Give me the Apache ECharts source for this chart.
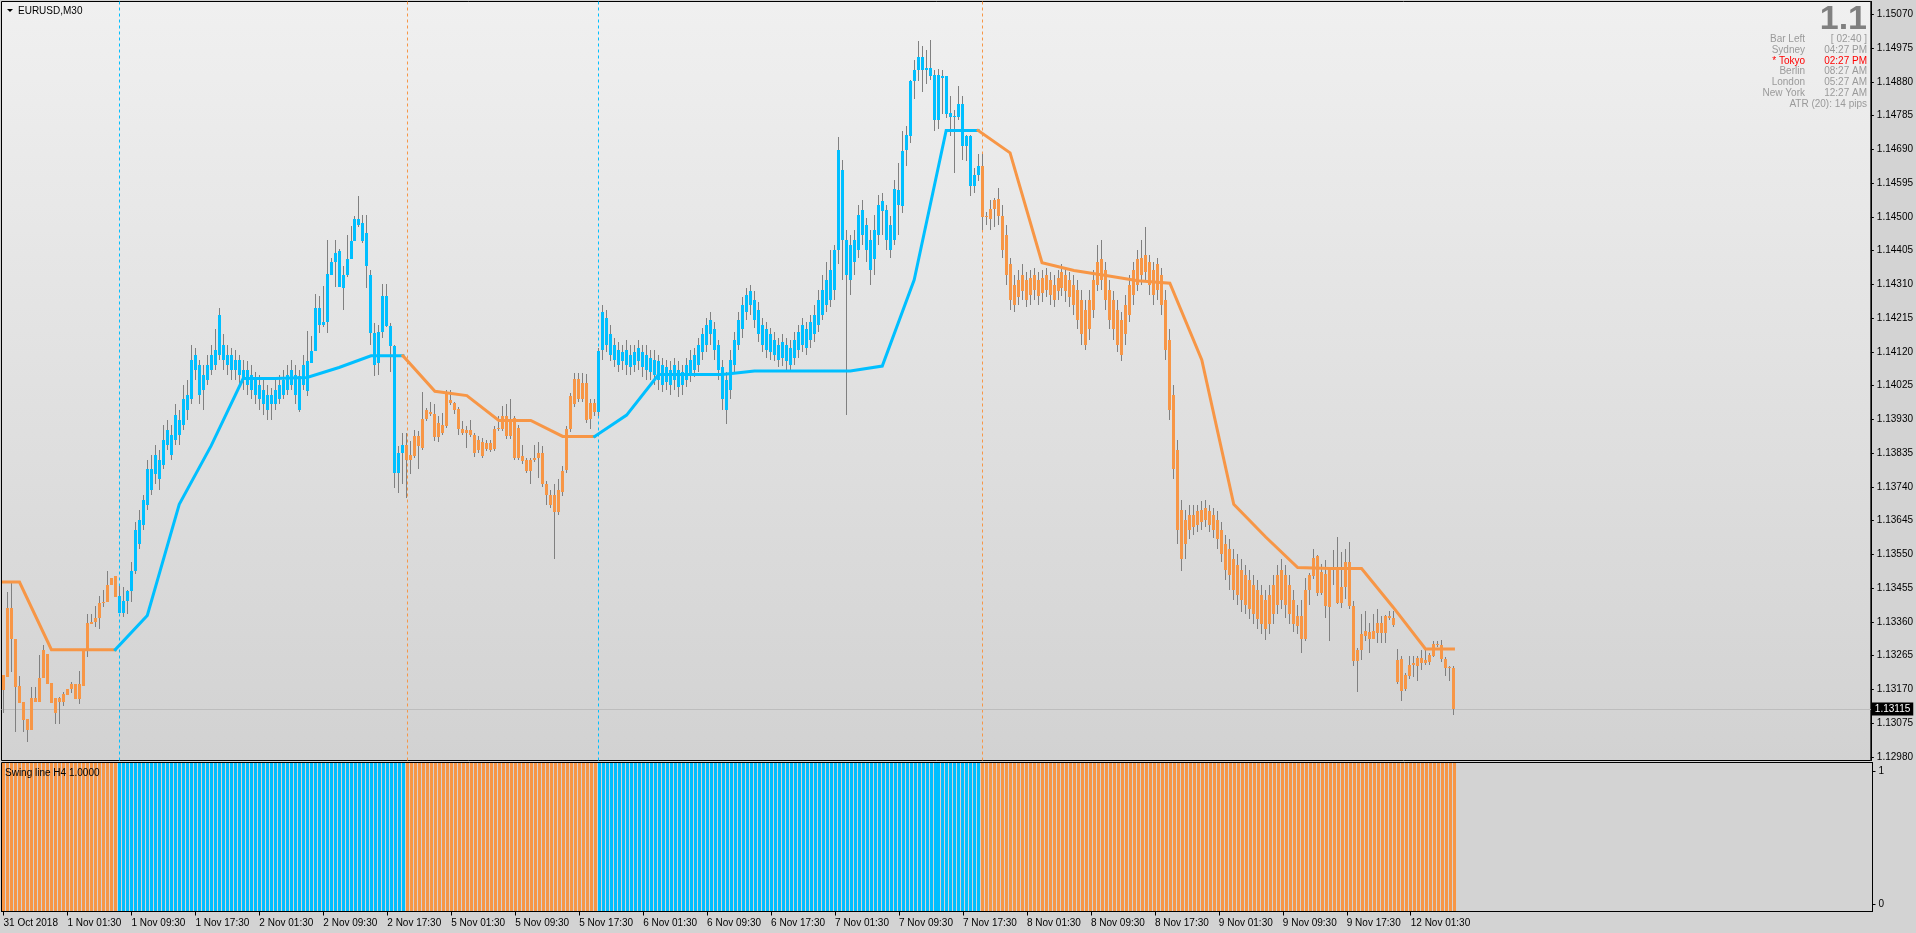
<!DOCTYPE html>
<html>
<head>
<meta charset="utf-8">
<title>EURUSD,M30</title>
<script src="https://cdn.jsdelivr.net/npm/echarts@6.0.0/dist/echarts.min.js"></script>
<style>
html,body{margin:0;padding:0;background:#d3d3d3;overflow:hidden;}
#chart{width:1916px;height:933px;}
</style>
</head>
<body>
<div id="chart"></div>
<script>
// ---------------- DATA ----------------
const opens = [
1.13212,1.13206,1.13398,1.13313,1.13181,1.13136,1.13088,1.13057,1.13147,1.13136,
1.13201,1.13271,1.13187,1.13147,1.13136,1.13136,1.13153,1.13170,1.13184,1.13144,
1.13181,1.13282,1.13353,1.13361,1.13372,1.13412,1.13415,1.13465,1.13488,1.13434,
1.13386,1.13420,1.13446,1.13502,1.13578,1.13634,1.13690,1.13789,1.13775,1.13817,
1.13803,1.13859,1.13887,1.13873,1.13929,1.13915,1.13957,1.13986,1.14112,1.14084,
1.14014,1.14042,1.14070,1.14084,1.14112,1.14140,1.14084,1.14112,1.14070,1.14098,
1.14070,1.14028,1.14056,1.14042,1.14028,1.13972,1.14000,1.13972,1.13972,1.13986,
1.14000,1.14014,1.14028,1.14056,1.13957,1.14028,1.14009,1.14089,1.14122,1.14244,
1.14197,1.14203,1.14337,1.14372,1.14403,1.14300,1.14335,1.14382,1.14431,1.14494,
1.14483,1.14455,1.14335,1.14173,1.14089,1.14175,1.14278,1.14194,1.14136,1.13780,
1.13836,1.13859,1.13817,1.13826,1.13884,1.13850,1.13931,1.13950,1.13944,1.13880,
1.13913,1.13911,1.13984,1.13976,1.13960,1.13903,1.13892,1.13901,1.13887,1.13843,
1.13866,1.13847,1.13864,1.13847,1.13903,1.13903,1.13939,1.13882,1.13934,1.13822,
1.13826,1.13817,1.13784,1.13815,1.13822,1.13836,1.13747,1.13718,1.13718,1.13670,
1.13725,1.13787,1.13903,1.13972,1.14044,1.13986,1.14031,1.13931,1.13976,1.13950,
1.14126,1.14216,1.14169,1.14098,1.14126,1.14093,1.14126,1.14076,1.14121,1.14093,
1.14121,1.14070,1.14104,1.14056,1.14093,1.14028,1.14076,1.14028,1.14042,1.14070,
1.14028,1.14042,1.14056,1.14070,1.14084,1.14121,1.14140,1.14169,1.14183,1.14140,
1.14076,1.13957,1.14014,1.14084,1.14140,1.14183,1.14233,1.14253,1.14267,1.14239,
1.14197,1.14126,1.14169,1.14112,1.14140,1.14104,1.14140,1.14084,1.14104,1.14126,
1.14140,1.14183,1.14154,1.14169,1.14197,1.14225,1.14253,1.14267,1.14295,1.14408,
1.14633,1.14436,1.14323,1.14374,1.14408,1.14450,1.14478,1.14436,1.14380,1.14450,
1.14516,1.14520,1.14408,1.14436,1.14576,1.14530,1.14687,1.14728,1.14881,1.14912,
1.14950,1.14912,1.14919,1.14899,1.14773,1.14895,1.14895,1.14792,1.14781,1.14781,
1.14818,1.14700,1.14727,1.14586,1.14619,1.14644,1.14500,1.14494,1.14522,1.14550,
1.14501,1.14450,1.14366,1.14253,1.14323,1.14290,1.14323,1.14281,1.14337,1.14278,
1.14329,1.14295,1.14323,1.14309,1.14290,1.14301,1.14337,1.14323,1.14309,1.14295,
1.14267,1.14239,1.14183,1.14239,1.14309,1.14380,1.14351,1.14295,1.14267,1.14239,
1.14211,1.14169,1.14225,1.14281,1.14309,1.14337,1.14346,1.14374,1.14351,1.14295,
1.14337,1.14267,1.14154,1.14000,1.13845,1.13676,1.13578,1.13620,1.13662,1.13634,
1.13642,1.13682,1.13671,1.13662,1.13648,1.13620,1.13578,1.13493,1.13536,1.13437,
1.13507,1.13409,1.13479,1.13465,1.13451,1.13437,1.13423,1.13353,1.13381,1.13409,
1.13507,1.13493,1.13465,1.13423,1.13348,1.13378,1.13313,1.13449,1.13489,1.13545,
1.13440,1.13496,1.13403,1.13507,1.13509,1.13414,1.13459,1.13528,1.13406,1.13250,
1.13280,1.13320,1.13331,1.13313,1.13330,1.13358,1.13330,1.13376,1.13372,1.13254,
1.13256,1.13170,1.13209,1.13240,1.13237,1.13259,1.13243,1.13247,1.13264,1.13299,
1.13294,1.13256,1.13231,1.13231
];
const closes = [
1.13168,1.13398,1.13313,1.13178,1.13133,1.13083,1.13057,1.13147,1.13136,1.13201,
1.13280,1.13184,1.13133,1.13105,1.13147,1.13156,1.13170,1.13184,1.13144,1.13184,
1.13282,1.13356,1.13361,1.13372,1.13412,1.13417,1.13465,1.13485,1.13431,1.13386,
1.13420,1.13446,1.13502,1.13620,1.13648,1.13704,1.13789,1.13732,1.13831,1.13761,
1.13873,1.13901,1.13831,1.13943,1.13887,1.13986,1.14000,1.14098,1.14070,1.14000,
1.14056,1.14084,1.14112,1.14126,1.14225,1.14098,1.14112,1.14070,1.14098,1.14056,
1.14042,1.14070,1.14014,1.14000,1.13986,1.14014,1.13957,1.14000,1.14014,1.14028,
1.14042,1.14056,1.14070,1.14000,1.14053,1.14084,1.14093,1.14122,1.14244,1.14197,
1.14203,1.14340,1.14372,1.14399,1.14303,1.14337,1.14382,1.14431,1.14494,1.14478,
1.14431,1.14361,1.14173,1.14084,1.14175,1.14276,1.14194,1.14136,1.13780,1.13836,
1.13859,1.13817,1.13831,1.13884,1.13854,1.13931,1.13956,1.13944,1.13880,1.13920,
1.13892,1.14006,1.13976,1.13957,1.13903,1.13892,1.13901,1.13887,1.13836,1.13871,
1.13828,1.13864,1.13845,1.13903,1.13906,1.13939,1.13882,1.13931,1.13822,1.13906,
1.13812,1.13784,1.13817,1.13822,1.13836,1.13747,1.13718,1.13690,1.13670,1.13732,
1.13784,1.13903,1.13997,1.14044,1.13986,1.14033,1.13927,1.13976,1.13950,1.14122,
1.14233,1.14140,1.14112,1.14140,1.14084,1.14121,1.14084,1.14112,1.14084,1.14132,
1.14076,1.14112,1.14064,1.14098,1.14042,1.14084,1.14036,1.14070,1.14084,1.14020,
1.14064,1.14084,1.14098,1.14112,1.14140,1.14169,1.14197,1.14211,1.14126,1.14070,
1.13986,1.14042,1.14098,1.14154,1.14211,1.14253,1.14281,1.14290,1.14211,1.14169,
1.14140,1.14183,1.14121,1.14154,1.14098,1.14149,1.14093,1.14132,1.14154,1.14177,
1.14197,1.14132,1.14205,1.14225,1.14267,1.14295,1.14323,1.14351,1.14408,1.14689,
1.14436,1.14337,1.14422,1.14436,1.14506,1.14520,1.14408,1.14351,1.14464,1.14534,
1.14544,1.14436,1.14478,1.14579,1.14532,1.14684,1.14731,1.14881,1.14914,1.14950,
1.14912,1.14919,1.14897,1.14773,1.14899,1.14892,1.14790,1.14781,1.14785,1.14818,
1.14700,1.14727,1.14586,1.14619,1.14642,1.14500,1.14501,1.14522,1.14548,1.14501,
1.14408,1.14337,1.14267,1.14309,1.14273,1.14337,1.14267,1.14329,1.14295,1.14323,
1.14287,1.14337,1.14281,1.14267,1.14329,1.14346,1.14290,1.14273,1.14253,1.14211,
1.14169,1.14140,1.14267,1.14323,1.14374,1.14323,1.14267,1.14211,1.14183,1.14140,
1.14112,1.14253,1.14309,1.14351,1.14380,1.14385,1.14394,1.14309,1.14281,1.14366,
1.14253,1.14126,1.13957,1.13789,1.13620,1.13536,1.13648,1.13662,1.13626,1.13671,
1.13676,1.13648,1.13634,1.13620,1.13592,1.13550,1.13507,1.13564,1.13451,1.13521,
1.13423,1.13493,1.13395,1.13381,1.13367,1.13353,1.13339,1.13437,1.13465,1.13493,
1.13423,1.13409,1.13381,1.13353,1.13376,1.13313,1.13451,1.13493,1.13540,1.13440,
1.13500,1.13404,1.13507,1.13509,1.13414,1.13459,1.13528,1.13406,1.13250,1.13282,
1.13325,1.13334,1.13313,1.13334,1.13358,1.13330,1.13378,1.13372,1.13351,1.13190,
1.13165,1.13212,1.13240,1.13243,1.13259,1.13243,1.13252,1.13266,1.13299,1.13294,
1.13256,1.13231,1.13233,1.13115
];
const lows = [
1.13105,1.13206,1.13220,1.13049,1.13133,1.13049,1.13021,1.13057,1.13136,1.13136,
1.13201,1.13184,1.13133,1.13074,1.13074,1.13122,1.13153,1.13161,1.13144,1.13128,
1.13181,1.13260,1.13353,1.13347,1.13339,1.13401,1.13415,1.13465,1.13431,1.13386,
1.13375,1.13381,1.13415,1.13495,1.13564,1.13620,1.13676,1.13718,1.13747,1.13732,
1.13789,1.13845,1.13817,1.13859,1.13859,1.13901,1.13929,1.13972,1.14042,1.13972,
1.13957,1.14028,1.14056,1.14070,1.14098,1.14070,1.14056,1.14042,1.14042,1.14028,
1.14014,1.14000,1.13986,1.13972,1.13957,1.13943,1.13929,1.13929,1.13957,1.13972,
1.13986,1.14000,1.14014,1.13972,1.13952,1.14014,1.13995,1.14089,1.14122,1.14173,
1.14190,1.14173,1.14337,1.14303,1.14303,1.14237,1.14330,1.14382,1.14431,1.14470,
1.14425,1.14300,1.14140,1.14051,1.14056,1.14160,1.14190,1.14062,1.13737,1.13723,
1.13747,1.13710,1.13775,1.13820,1.13789,1.13845,1.13925,1.13940,1.13868,1.13865,
1.13885,1.13905,1.13970,1.13944,1.13887,1.13885,1.13850,1.13880,1.13825,1.13835,
1.13820,1.13840,1.13838,1.13840,1.13898,1.13898,1.13875,1.13875,1.13817,1.13815,
1.13805,1.13780,1.13747,1.13810,1.13766,1.13740,1.13690,1.13680,1.13536,1.13660,
1.13715,1.13780,1.13895,1.13965,1.13980,1.13980,1.13920,1.13903,1.13940,1.13940,
1.14098,1.14121,1.14093,1.14076,1.14064,1.14070,1.14056,1.14056,1.14064,1.14070,
1.14048,1.14042,1.14042,1.14028,1.14014,1.14008,1.14014,1.14000,1.14014,1.13992,
1.14000,1.14020,1.14036,1.14048,1.14064,1.14098,1.14121,1.14140,1.14098,1.14042,
1.13957,1.13918,1.13986,1.14064,1.14126,1.14160,1.14211,1.14225,1.14188,1.14149,
1.14121,1.14104,1.14098,1.14093,1.14076,1.14081,1.14070,1.14064,1.14084,1.14104,
1.14121,1.14112,1.14132,1.14149,1.14177,1.14211,1.14233,1.14245,1.14267,1.14366,
1.14323,1.13943,1.14281,1.14337,1.14385,1.14422,1.14374,1.14309,1.14337,1.14422,
1.14450,1.14408,1.14385,1.14422,1.14450,1.14511,1.14644,1.14708,1.14832,1.14881,
1.14850,1.14875,1.14886,1.14741,1.14747,1.14788,1.14779,1.14728,1.14622,1.14773,
1.14661,1.14656,1.14560,1.14567,1.14600,1.14464,1.14478,1.14464,1.14470,1.14478,
1.14385,1.14309,1.14239,1.14233,1.14253,1.14267,1.14245,1.14253,1.14267,1.14253,
1.14261,1.14273,1.14253,1.14245,1.14267,1.14278,1.14261,1.14245,1.14225,1.14183,
1.14140,1.14126,1.14154,1.14216,1.14290,1.14295,1.14239,1.14183,1.14154,1.14121,
1.14093,1.14140,1.14205,1.14253,1.14290,1.14309,1.14323,1.14281,1.14253,1.14267,
1.14225,1.14098,1.13929,1.13761,1.13578,1.13502,1.13536,1.13592,1.13606,1.13614,
1.13620,1.13626,1.13614,1.13597,1.13564,1.13530,1.13479,1.13451,1.13423,1.13409,
1.13389,1.13381,1.13367,1.13353,1.13339,1.13325,1.13310,1.13325,1.13353,1.13381,
1.13395,1.13372,1.13353,1.13333,1.13325,1.13273,1.13305,1.13409,1.13480,1.13434,
1.13435,1.13372,1.13306,1.13465,1.13410,1.13400,1.13425,1.13397,1.13236,1.13162,
1.13254,1.13306,1.13273,1.13311,1.13301,1.13301,1.13301,1.13365,1.13346,1.13184,
1.13137,1.13165,1.13198,1.13206,1.13193,1.13226,1.13240,1.13240,1.13260,1.13290,
1.13247,1.13209,1.13193,1.13097
];
const highs = [
1.13212,1.13443,1.13471,1.13313,1.13209,1.13136,1.13088,1.13178,1.13178,1.13268,
1.13296,1.13271,1.13187,1.13147,1.13150,1.13164,1.13170,1.13192,1.13184,1.13223,
1.13282,1.13381,1.13381,1.13406,1.13434,1.13451,1.13502,1.13485,1.13488,1.13460,
1.13457,1.13451,1.13530,1.13640,1.13676,1.13718,1.13817,1.13831,1.13859,1.13845,
1.13915,1.13929,1.13915,1.13972,1.13957,1.14028,1.14042,1.14140,1.14132,1.14098,
1.14084,1.14112,1.14140,1.14183,1.14244,1.14169,1.14140,1.14132,1.14126,1.14112,
1.14098,1.14093,1.14084,1.14064,1.14056,1.14042,1.14028,1.14019,1.14042,1.14056,
1.14070,1.14084,1.14098,1.14084,1.14070,1.14112,1.14178,1.14164,1.14284,1.14278,
1.14304,1.14434,1.14385,1.14434,1.14410,1.14361,1.14450,1.14473,1.14501,1.14560,
1.14506,1.14506,1.14351,1.14200,1.14197,1.14312,1.14311,1.14200,1.14140,1.13854,
1.13893,1.13892,1.13868,1.13901,1.13896,1.14006,1.13962,1.13979,1.13972,1.13939,
1.13948,1.14014,1.14014,1.13980,1.13965,1.13925,1.13911,1.13929,1.13892,1.13882,
1.13878,1.13873,1.13873,1.13911,1.13939,1.13967,1.13972,1.13988,1.13940,1.13915,
1.13859,1.13820,1.13822,1.13859,1.13866,1.13854,1.13756,1.13732,1.13747,1.13761,
1.13798,1.13910,1.14005,1.14061,1.14061,1.14061,1.14059,1.13986,1.13986,1.14130,
1.14253,1.14239,1.14197,1.14160,1.14149,1.14140,1.14154,1.14140,1.14140,1.14154,
1.14140,1.14140,1.14126,1.14126,1.14112,1.14104,1.14098,1.14093,1.14104,1.14093,
1.14084,1.14104,1.14126,1.14132,1.14160,1.14188,1.14216,1.14233,1.14205,1.14154,
1.14098,1.14064,1.14126,1.14177,1.14233,1.14273,1.14301,1.14309,1.14290,1.14261,
1.14216,1.14205,1.14188,1.14177,1.14160,1.14169,1.14160,1.14154,1.14177,1.14197,
1.14216,1.14205,1.14225,1.14253,1.14295,1.14337,1.14374,1.14408,1.14422,1.14726,
1.14661,1.14464,1.14450,1.14464,1.14534,1.14548,1.14498,1.14464,1.14506,1.14562,
1.14568,1.14534,1.14503,1.14605,1.14652,1.14741,1.14757,1.14886,1.14940,1.14996,
1.14980,1.14970,1.14998,1.14914,1.14916,1.14914,1.14897,1.14839,1.14800,1.14867,
1.14839,1.14731,1.14731,1.14638,1.14678,1.14678,1.14515,1.14546,1.14553,1.14581,
1.14534,1.14478,1.14385,1.14337,1.14351,1.14366,1.14346,1.14351,1.14357,1.14346,
1.14351,1.14357,1.14346,1.14337,1.14351,1.14366,1.14357,1.14346,1.14337,1.14323,
1.14295,1.14267,1.14295,1.14351,1.14422,1.14436,1.14374,1.14323,1.14290,1.14267,
1.14233,1.14281,1.14337,1.14374,1.14408,1.14436,1.14470,1.14394,1.14374,1.14385,
1.14357,1.14295,1.14183,1.14028,1.13873,1.13704,1.13676,1.13690,1.13690,1.13690,
1.13699,1.13704,1.13690,1.13682,1.13671,1.13642,1.13606,1.13592,1.13564,1.13550,
1.13536,1.13521,1.13507,1.13493,1.13479,1.13465,1.13451,1.13465,1.13493,1.13521,
1.13536,1.13521,1.13493,1.13451,1.13409,1.13423,1.13484,1.13498,1.13566,1.13547,
1.13524,1.13533,1.13515,1.13562,1.13600,1.13556,1.13566,1.13584,1.13418,1.13287,
1.13381,1.13392,1.13356,1.13381,1.13395,1.13376,1.13380,1.13390,1.13390,1.13284,
1.13264,1.13215,1.13264,1.13264,1.13264,1.13282,1.13280,1.13273,1.13305,1.13306,
1.13309,1.13260,1.13236,1.13236
];
// trend state of the swing indicator: first bar of each run and its direction
const trendStarts = [0, 29, 101, 149, 245];
const trendDirs   = ['down', 'up', 'down', 'up', 'down'];
// H4 swing line knots (bar index, level)
const swingBars = [0,4,12,20,28,36,44,52,60,68,76,84,92,100,108,116,124,132,140,148,156,164,172,180,188,196,204,212,220,228,236,244,252,260,268,276,284,292,300,308,316,324,332,340,348,356,363];
const swingLevels = [1.13472,1.13472,1.13282,1.13282,1.13282,1.13378,1.13691,1.13856,1.14045,1.14045,1.14048,1.14076,1.14109,1.14109,1.14009,1.13997,1.13927,1.13927,1.13882,1.13882,1.13942,1.14056,1.14056,1.14056,1.14066,1.14066,1.14066,1.14066,1.14080,1.14323,1.14743,1.14743,1.14680,1.14371,1.14349,1.14335,1.14320,1.14313,1.14097,1.13691,1.13599,1.13513,1.13510,1.13510,1.13400,1.13284,1.13284];
const histogramValue = 1;
const priceTicks = [1.12980,1.13075,1.13170,1.13265,1.13360,1.13455,1.13550,1.13645,1.13740,1.13835,1.13930,1.14025,1.14120,1.14215,1.14310,1.14405,1.14500,1.14595,1.14690,1.14785,1.14880,1.14975,1.15070];
const timeLabels = ['31 Oct 2018','1 Nov 01:30','1 Nov 09:30','1 Nov 17:30','2 Nov 01:30','2 Nov 09:30','2 Nov 17:30','5 Nov 01:30','5 Nov 09:30','5 Nov 17:30','6 Nov 01:30','6 Nov 09:30','6 Nov 17:30','7 Nov 01:30','7 Nov 09:30','7 Nov 17:30','8 Nov 01:30','8 Nov 09:30','8 Nov 17:30','9 Nov 01:30','9 Nov 09:30','9 Nov 17:30','12 Nov 01:30'];
const barsPerLabel = 16;
const bidPrice = 1.13115;
const infoRows = [['Bar Left','[ 02:40 ]'],['Sydney','04:27 PM'],['* Tokyo','02:27 PM'],['Berlin','08:27 AM'],['London','05:27 AM'],['New York','12:27 AM']];
const highlightRow = '* Tokyo';
const atrText = 'ATR (20): 14 pips';
const bigText = '1.1';

// ---------------- STYLE ----------------
const ORANGE = '#f79646', BLUE = '#00bfff', WICK = '#808080';
const FONT = '"Liberation Sans", Arial, sans-serif';
const totalSlots = 468; // visible bar slots incl. right shift
const slots = Array.from({length: totalSlots}, (_, i) => String(i));

function trendAt(i) {
  let d = trendDirs[0];
  for (let k = 0; k < trendStarts.length; k++) if (i >= trendStarts[k]) d = trendDirs[k];
  return d;
}
const colorOf = d => d === 'up' ? BLUE : ORANGE;

function renderCandle(params, api) {
  const i = api.value(0);
  const pO = api.coord([i, api.value(1)]);
  const pC = api.coord([i, api.value(2)]);
  const pL = api.coord([i, api.value(3)]);
  const pH = api.coord([i, api.value(4)]);
  const bw = Math.max(1, Math.round(api.size([1, 0])[0] * 0.75));
  const cx = Math.floor(pO[0]);
  const top = Math.round(Math.min(pO[1], pC[1]));
  const bot = Math.round(Math.max(pO[1], pC[1]));
  const yH = Math.round(pH[1]), yL = Math.round(pL[1]);
  return {
    type: 'group',
    children: [
      {type: 'rect', shape: {x: cx, y: yH, width: 1, height: Math.max(1, yL - yH)}, style: {fill: WICK}},
      {type: 'rect', shape: {x: cx - Math.floor(bw / 2), y: top, width: bw, height: Math.max(1, bot - top)}, style: {fill: colorOf(trendAt(i))}}
    ]
  };
}
function renderHist(params, api) {
  const i = api.value(0);
  const p1 = api.coord([i, api.value(1)]);
  const p0 = api.coord([i, 0]);
  const bw = Math.max(1, Math.round(api.size([1, 0])[0] * 0.75));
  const cx = Math.floor(p1[0]);
  const y1 = Math.ceil(p1[1]), y0 = Math.floor(p0[1]);
  return {type: 'rect', shape: {x: cx - Math.floor(bw / 2), y: y1, width: bw, height: y0 - y1}, style: {fill: colorOf(trendAt(i))}};
}

// swing line split into colored runs
const swingSeries = [];
let run = null;
for (let k = 0; k < swingBars.length - 1; k++) {
  const col = colorOf(trendAt(swingBars[k + 1]));
  if (!run || run.color !== col) {
    run = {color: col, data: [[swingBars[k], swingLevels[k]]]};
    swingSeries.push(run);
  }
  run.data.push([swingBars[k + 1], swingLevels[k + 1]]);
}

const labelShown = (idx) => idx % barsPerLabel === 0 && idx / barsPerLabel < timeLabels.length;

const markData = trendStarts.slice(1).map(i => ({
  xAxis: i, label: {show: false},
  lineStyle: {color: colorOf(trendAt(i)), type: [3, 3], width: 1}
}));
markData.push({
  yAxis: bidPrice,
  lineStyle: {color: '#bdbdbd', type: 'solid', width: 1},
  label: {show: true, position: 'end', distance: 1, formatter: bidPrice.toFixed(5),
          color: '#ffffff', backgroundColor: '#000000', padding: [2, 3, 1, 3],
          fontSize: 10, fontFamily: FONT}
});

const graphics = [
  {type: 'polygon', shape: {points: [[7, 9], [13, 9], [10, 12]]}, style: {fill: '#000'}, z: 100},
  {type: 'text', x: 18, y: 11, z: 100, style: {text: 'EURUSD,M30', fill: '#000', font: '10px ' + FONT, verticalAlign: 'middle'}},
  {type: 'text', x: 5, y: 773, z: 100, style: {text: 'Swing line H4 ' + histogramValue.toFixed(4), fill: '#000', font: '10px ' + FONT, verticalAlign: 'middle'}},
  {type: 'text', x: 1867, y: 20, z: 100, style: {text: bigText, fill: '#808080', font: 'bold 34px ' + FONT, align: 'right', verticalAlign: 'middle'}}
];
infoRows.forEach((r, k) => {
  const col = r[0] === highlightRow ? '#ff0000' : '#9a9a9a';
  const y = 39 + k * 10.9;
  graphics.push({type: 'text', x: 1805, y: y, z: 100, style: {text: r[0], fill: col, font: '10px ' + FONT, align: 'right', verticalAlign: 'middle'}});
  graphics.push({type: 'text', x: 1867, y: y, z: 100, style: {text: r[1], fill: col, font: '10px ' + FONT, align: 'right', verticalAlign: 'middle'}});
});
graphics.push({type: 'text', x: 1867, y: 39 + 6 * 10.9, z: 100, style: {text: atrText, fill: '#9a9a9a', font: '10px ' + FONT, align: 'right', verticalAlign: 'middle'}});

const option = {
  animation: false,
  backgroundColor: '#d3d3d3',
  textStyle: {fontFamily: FONT},
  grid: [
    {left: 1.5, top: 1.5, width: 1871, height: 759, show: true,
     backgroundColor: {type: 'linear', x: 0, y: 0, x2: 0, y2: 1, colorStops: [{offset: 0, color: '#f0f0f0'}, {offset: 1, color: '#d2d2d2'}]},
     borderColor: '#000', borderWidth: 1},
    {left: 1.5, top: 762.5, width: 1871, height: 149, show: true, backgroundColor: '#d3d3d3', borderColor: '#000', borderWidth: 1}
  ],
  xAxis: [
    {gridIndex: 0, type: 'category', data: slots, boundaryGap: true, show: false},
    {gridIndex: 1, type: 'category', data: slots, boundaryGap: true,
     axisLine: {show: true, lineStyle: {color: '#000', width: 1}},
     axisTick: {show: true, alignWithLabel: true, interval: labelShown, length: 4, lineStyle: {color: '#000'}},
     axisLabel: {interval: labelShown, align: 'left', margin: 7, color: '#000', fontSize: 10, fontFamily: FONT,
                 formatter: (v) => timeLabels[Number(v) / barsPerLabel] || ''},
     splitLine: {show: false}}
  ],
  yAxis: [
    {gridIndex: 0, type: 'value', position: 'right', min: 1.12970, max: 1.15106,
     axisLine: {show: true, lineStyle: {color: '#000'}},
     axisTick: {show: true, customValues: priceTicks, length: 3, lineStyle: {color: '#000'}},
     axisLabel: {customValues: priceTicks, formatter: v => v.toFixed(5), color: '#000', fontSize: 10, fontFamily: FONT, margin: 6},
     splitLine: {show: false}},
    {gridIndex: 1, type: 'value', min: 0, max: 1, show: false},
    {gridIndex: 1, type: 'value', position: 'right', min: -0.052, max: 1.065,
     axisLine: {show: true, lineStyle: {color: '#000'}},
     axisTick: {show: true, customValues: [0, 1], length: 3, lineStyle: {color: '#000'}},
     axisLabel: {customValues: [0, 1], formatter: v => String(v), color: '#000', fontSize: 10, fontFamily: FONT, margin: 6},
     splitLine: {show: false}}
  ],
  series: [
    {type: 'custom', name: 'EURUSD', xAxisIndex: 0, yAxisIndex: 0, z: 2, clip: true,
     data: opens.map((o, i) => [i, o, closes[i], lows[i], highs[i]]),
     encode: {x: 0, y: [1, 2, 3, 4]},
     renderItem: renderCandle,
     markLine: {symbol: ['none', 'none'], silent: true, animation: false, precision: 5, z: 1, data: markData}},
    ...swingSeries.map(s => ({
      type: 'line', xAxisIndex: 0, yAxisIndex: 0, z: 3, data: s.data,
      symbol: 'none', showSymbol: false, silent: true,
      lineStyle: {color: s.color, width: 3, cap: 'square', join: 'miter'}
    })),
    {type: 'custom', name: 'Swing line H4', xAxisIndex: 1, yAxisIndex: 1, z: 2,
     data: opens.map((o, i) => [i, histogramValue]),
     encode: {x: 0, y: 1},
     renderItem: renderHist}
  ],
  graphic: graphics
};

const chart = echarts.init(document.getElementById('chart'), null, {renderer: 'canvas'});
chart.setOption(option);
</script>
</body>
</html>
